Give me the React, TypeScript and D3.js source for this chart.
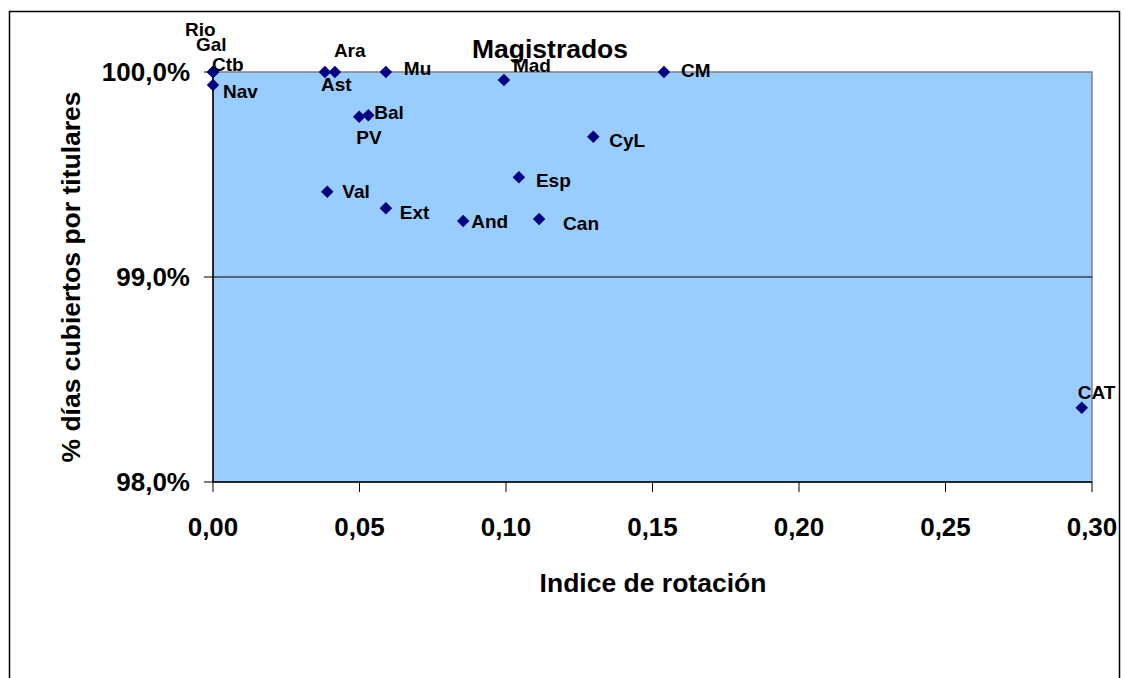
import React from "react";
import * as d3 from "d3";

const labels = ["Rio", "Gal", "Ctb", "Nav", "Ast", "Ara", "Mu", "Mad", "CM", "Bal", "PV", "CyL", "Esp", "Val", "Ext", "And", "Can", "CAT"];
const rotation = [0, 0, 0, 0, 0.0382, 0.0416, 0.059, 0.0993, 0.1539, 0.053, 0.0499, 0.1298, 0.1044, 0.039, 0.059, 0.0854, 0.1113, 0.2965];
const coverage = [100, 100, 100, 99.937, 100, 100, 100, 99.961, 100, 99.789, 99.782, 99.684, 99.486, 99.416, 99.335, 99.273, 99.283, 98.362];
// label offsets (style): [dx, dy] from point to text baseline-left
const labelOffsets: [number, number][] = [
  [-28, -36], [-17, -21], [-1, -1], [10, 13], [-4, 19], [-1, -15], [18, 3], [9, -8], [17, 5],
  [6, 4], [-3, 27], [16, 10], [17, 10], [15, 6], [14, 11], [8, 7], [24, 11], [-4, -9],
];
const xTicks = [0, 0.05, 0.1, 0.15, 0.2, 0.25, 0.3];
const yTicks = [98, 99, 100];

const W = 1125, H = 678;
const left = 213, right = 1092, top = 72, bottom = 482;

export default function App() {
  const x = d3.scaleLinear().domain([0, 0.3]).range([left, right]);
  const y = d3.scaleLinear().domain([98, 100]).range([bottom, top]);
  const fmtX = (v: number) => v.toFixed(2).replace(".", ",");
  const fmtY = (v: number) => v.toFixed(1).replace(".", ",") + "%";
  const font = "'Liberation Sans', Arial, sans-serif";
  const marker = d3.symbol().type(d3.symbolSquare).size(78)() as string;
  return (
    <svg width={W} height={H} style={{ position: "absolute", left: 0, top: 0 }} fontFamily={font}>
      <rect x={0} y={0} width={W} height={H} fill="#fff" />
      <path d={`M9.5,${H + 5} V11.5 H1119.5 V${H + 5}`} fill="none" stroke="#000" strokeWidth={1.5} />
      <rect x={left} y={top} width={right - left} height={bottom - top} fill="#99CCFF" stroke="#808080" strokeWidth={1.5} />
      <line x1={left} x2={right} y1={y(99)} y2={y(99)} stroke="#000" strokeWidth={1} />
      <line x1={left} x2={left} y1={top} y2={bottom} stroke="#000" strokeWidth={1.5} />
      <line x1={left} x2={right} y1={bottom} y2={bottom} stroke="#000" strokeWidth={1.5} />
      {yTicks.map((t) => (
        <g key={"y" + t}>
          <line x1={left - 9} x2={left} y1={y(t)} y2={y(t)} stroke="#000" strokeWidth={1} />
          <text x={190} y={y(t) + 9} textAnchor="end" fontWeight="bold" fontSize={26}>{fmtY(t)}</text>
        </g>
      ))}
      {xTicks.map((t) => (
        <g key={"x" + t}>
          <line x1={x(t)} x2={x(t)} y1={bottom} y2={bottom + 10} stroke="#000" strokeWidth={1} />
          <text x={x(t)} y={536} textAnchor="middle" fontWeight="bold" fontSize={26}>{fmtX(t)}</text>
        </g>
      ))}
      <text x={653} y={592} textAnchor="middle" fontWeight="bold" fontSize={26.5}>Indice de rotación</text>
      <text transform={`translate(80,277) rotate(-90)`} textAnchor="middle" fontWeight="bold" fontSize={26.5}>% días cubiertos por titulares</text>
      {labels.map((l, i) => (
        <path key={"p" + l} d={marker}
          transform={`translate(${x(rotation[i])},${y(coverage[i])}) rotate(45)`} fill="#000080" />
      ))}
      <text x={550} y={58} textAnchor="middle" fontWeight="bold" fontSize={26.5}>Magistrados</text>
      {labels.map((l, i) => (
        <text key={"t" + l} x={x(rotation[i]) + labelOffsets[i][0]} y={y(coverage[i]) + labelOffsets[i][1]}
          fontWeight="bold" fontSize={19}>{l}</text>
      ))}
    </svg>
  );
}
